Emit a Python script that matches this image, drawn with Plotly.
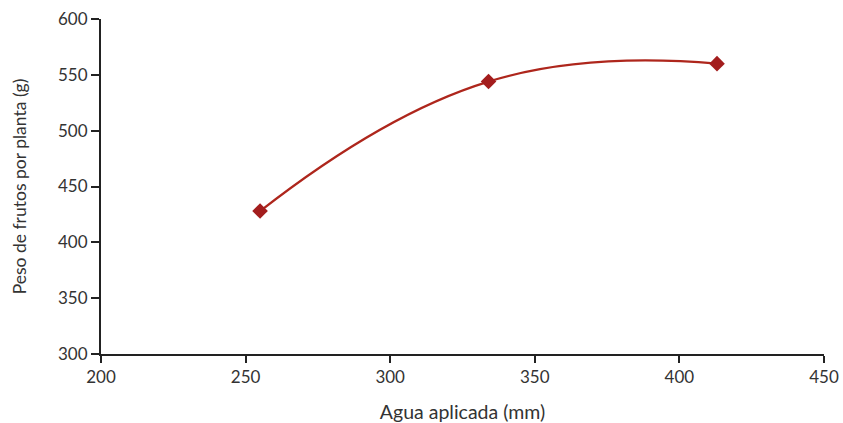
import plotly.graph_objects as go

agua_mm = [255, 334, 413]
peso_g = [428, 544, 560]

x_ticks = [200, 250, 300, 350, 400, 450]
y_ticks = [300, 350, 400, 450, 500, 550, 600]

font_family = "Lato, 'Open Sans', sans-serif"
text_color = "#333333"

fig = go.Figure()
fig.add_trace(go.Scatter(
    x=agua_mm, y=peso_g,
    mode="lines+markers",
    line=dict(color="#ae261c", width=2.3, shape="spline", smoothing=1.3),
    marker=dict(symbol="diamond", size=12, color="#a31d1d"),
    showlegend=False,
))

fig.update_layout(
    width=843, height=423,
    margin=dict(l=101, r=19, t=19, b=69),
    paper_bgcolor="white", plot_bgcolor="white",
    font=dict(family=font_family, size=17, color=text_color),
    xaxis=dict(
        range=[200, 450], tickvals=x_ticks, ticktext=[str(v) for v in x_ticks],
        showgrid=False, zeroline=False,
        showline=True, linecolor="#222222", linewidth=2,
        ticks="outside", ticklen=7, tickwidth=1.5, tickcolor="#222222",
        ticklabeloverflow="allow",
        title=dict(text="Agua aplicada (mm)", standoff=19,
                   font=dict(size=19.5, color=text_color)),
        automargin=False,
    ),
    yaxis=dict(
        range=[300, 600], tickvals=y_ticks, ticktext=[str(v) for v in y_ticks],
        showgrid=False, zeroline=False,
        showline=True, linecolor="#222222", linewidth=2,
        ticks="outside", ticklen=8, tickwidth=1.5, tickcolor="#222222",
        ticklabeloverflow="allow",
        title=dict(text="Peso de frutos por planta (g)", standoff=27,
                   font=dict(size=17.5, color=text_color)),
        automargin=False,
    ),
)

fig.write_html("out.html", config={"displayModeBar": False},
               post_script="document.body.style.margin='0';")
